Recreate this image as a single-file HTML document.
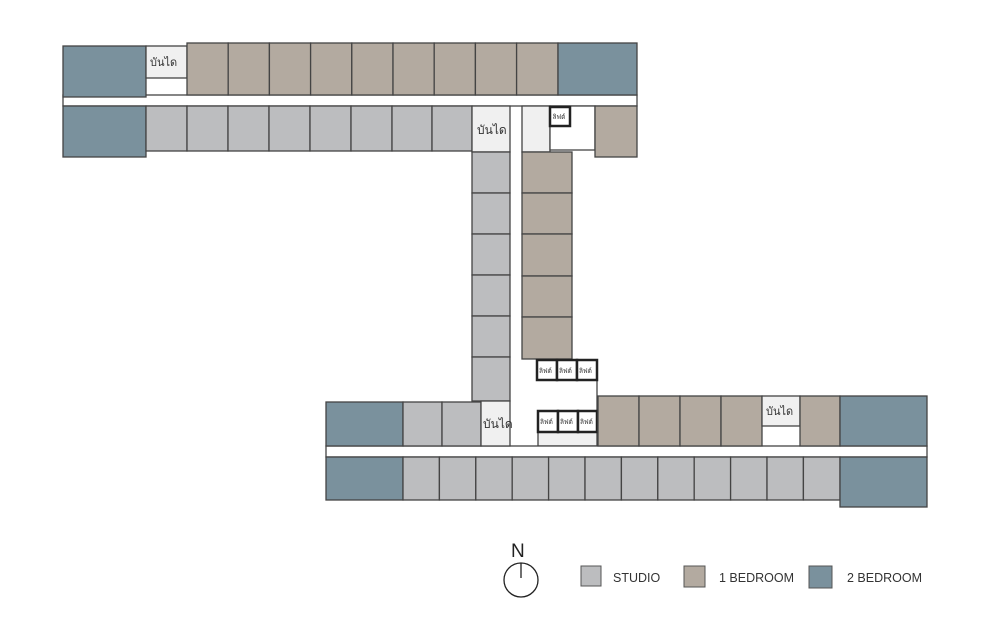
<!DOCTYPE html>
<html><head><meta charset="utf-8"><style>
html,body{margin:0;padding:0;background:#fff;width:1000px;height:631px;overflow:hidden}
text{font-family:"Liberation Sans","Noto Sans CJK SC",sans-serif}
</style></head><body>
<svg width="1000" height="631" viewBox="0 0 1000 631" xmlns="http://www.w3.org/2000/svg">
<g stroke="#444" stroke-width="1.3">
<!-- top corridor -->
<rect x="63" y="95" width="574" height="11" fill="#fff"/>
<!-- top row -->
<rect x="63" y="46" width="83" height="51" fill="#7a919d"/>
<rect x="146" y="46" width="41" height="32" fill="#f0f0f0"/>
<rect x="187" y="43" width="41.2" height="52" fill="#b3aaa0"/>
<rect x="228.2" y="43" width="41.2" height="52" fill="#b3aaa0"/>
<rect x="269.4" y="43" width="41.2" height="52" fill="#b3aaa0"/>
<rect x="310.6" y="43" width="41.2" height="52" fill="#b3aaa0"/>
<rect x="351.8" y="43" width="41.2" height="52" fill="#b3aaa0"/>
<rect x="393" y="43" width="41.2" height="52" fill="#b3aaa0"/>
<rect x="434.2" y="43" width="41.2" height="52" fill="#b3aaa0"/>
<rect x="475.4" y="43" width="41.2" height="52" fill="#b3aaa0"/>
<rect x="516.6" y="43" width="41.4" height="52" fill="#b3aaa0"/>
<rect x="558" y="43" width="79" height="52" fill="#7a919d"/>
<!-- second row -->
<rect x="63" y="106" width="83" height="51" fill="#7a919d"/>
<rect x="146" y="106" width="41" height="45" fill="#bcbdbf"/>
<rect x="187" y="106" width="41" height="45" fill="#bcbdbf"/>
<rect x="228" y="106" width="41" height="45" fill="#bcbdbf"/>
<rect x="269" y="106" width="41" height="45" fill="#bcbdbf"/>
<rect x="310" y="106" width="41" height="45" fill="#bcbdbf"/>
<rect x="351" y="106" width="41" height="45" fill="#bcbdbf"/>
<rect x="392" y="106" width="40" height="45" fill="#bcbdbf"/>
<rect x="432" y="106" width="40" height="45" fill="#bcbdbf"/>
<rect x="472" y="106" width="38" height="46" fill="#f0f0f0"/>
<rect x="522" y="106" width="28" height="46" fill="#f0f0f0"/>
<rect x="550" y="106" width="45" height="44" fill="#fff"/>
<rect x="550" y="107" width="20" height="19" fill="#fff" stroke="#222" stroke-width="2.5"/>
<rect x="595" y="106" width="42" height="51" fill="#b3aaa0"/>
<!-- vertical studio column -->
<rect x="472" y="152" width="38" height="41" fill="#bcbdbf"/>
<rect x="472" y="193" width="38" height="41" fill="#bcbdbf"/>
<rect x="472" y="234" width="38" height="41" fill="#bcbdbf"/>
<rect x="472" y="275" width="38" height="41" fill="#bcbdbf"/>
<rect x="472" y="316" width="38" height="41" fill="#bcbdbf"/>
<rect x="472" y="357" width="38" height="44" fill="#bcbdbf"/>
<!-- vertical brown column -->
<rect x="522" y="152" width="50" height="41" fill="#b3aaa0"/>
<rect x="522" y="193" width="50" height="41" fill="#b3aaa0"/>
<rect x="522" y="234" width="50" height="42" fill="#b3aaa0"/>
<rect x="522" y="276" width="50" height="41" fill="#b3aaa0"/>
<rect x="522" y="317" width="50" height="42" fill="#b3aaa0"/>
<!-- lifts -->
<line x1="597" y1="380" x2="597" y2="411"/>
<rect x="537" y="360" width="20" height="20" fill="#fff" stroke="#222" stroke-width="2.5"/>
<rect x="557" y="360" width="20" height="20" fill="#fff" stroke="#222" stroke-width="2.5"/>
<rect x="577" y="360" width="20" height="20" fill="#fff" stroke="#222" stroke-width="2.5"/>
<rect x="538" y="432" width="59" height="14" fill="#f0f0f0"/>
<rect x="538" y="411" width="20" height="21" fill="#fff" stroke="#222" stroke-width="2.5"/>
<rect x="558" y="411" width="20" height="21" fill="#fff" stroke="#222" stroke-width="2.5"/>
<rect x="578" y="411" width="19" height="21" fill="#fff" stroke="#222" stroke-width="2.5"/>
<!-- lower block -->
<rect x="326" y="446" width="601" height="11" fill="#fff"/>
<rect x="326" y="402" width="77" height="44" fill="#7a919d"/>
<rect x="403" y="402" width="39" height="44" fill="#bcbdbf"/>
<rect x="442" y="402" width="39" height="44" fill="#bcbdbf"/>
<rect x="481" y="401" width="29" height="45" fill="#f0f0f0"/>
<rect x="598" y="396" width="41" height="50" fill="#b3aaa0"/>
<rect x="639" y="396" width="41" height="50" fill="#b3aaa0"/>
<rect x="680" y="396" width="41" height="50" fill="#b3aaa0"/>
<rect x="721" y="396" width="41" height="50" fill="#b3aaa0"/>
<rect x="762" y="396" width="38" height="30" fill="#f0f0f0"/>
<rect x="800" y="396" width="40" height="50" fill="#b3aaa0"/>
<rect x="840" y="396" width="87" height="50" fill="#7a919d"/>
<rect x="326" y="457" width="77" height="43" fill="#7a919d"/>
<rect x="403" y="457" width="36.4" height="43" fill="#bcbdbf"/>
<rect x="439.4" y="457" width="36.4" height="43" fill="#bcbdbf"/>
<rect x="475.8" y="457" width="36.4" height="43" fill="#bcbdbf"/>
<rect x="512.2" y="457" width="36.4" height="43" fill="#bcbdbf"/>
<rect x="548.6" y="457" width="36.4" height="43" fill="#bcbdbf"/>
<rect x="585" y="457" width="36.4" height="43" fill="#bcbdbf"/>
<rect x="621.4" y="457" width="36.4" height="43" fill="#bcbdbf"/>
<rect x="657.8" y="457" width="36.4" height="43" fill="#bcbdbf"/>
<rect x="694.2" y="457" width="36.4" height="43" fill="#bcbdbf"/>
<rect x="730.6" y="457" width="36.4" height="43" fill="#bcbdbf"/>
<rect x="767" y="457" width="36.4" height="43" fill="#bcbdbf"/>
<rect x="803.4" y="457" width="36.6" height="43" fill="#bcbdbf"/>
<rect x="840" y="457" width="87" height="50" fill="#7a919d"/>
</g>
<g fill="#333" font-size="11">
<text x="150" y="66">บันได</text>
<text x="477" y="134" font-size="12">บันได</text>
<text x="483" y="428" font-size="12">บันได</text>
<text x="766" y="415">บันได</text>
</g>
<g fill="#333" font-size="6.5">
<text x="552.5" y="119">ลิฟต์</text>
<text x="539" y="373">ลิฟต์</text>
<text x="559" y="373">ลิฟต์</text>
<text x="579" y="373">ลิฟต์</text>
<text x="540" y="424">ลิฟต์</text>
<text x="560" y="424">ลิฟต์</text>
<text x="580" y="424">ลิฟต์</text>
</g>
<!-- legend -->
<text x="511" y="557" font-size="19" fill="#222">N</text>
<circle cx="521" cy="580" r="17" fill="none" stroke="#222" stroke-width="1.3"/>
<line x1="521" y1="563" x2="521" y2="578" stroke="#222" stroke-width="1.3"/>
<rect x="581" y="566" width="20" height="20" fill="#bcbdbf" stroke="#555"/>
<text x="613" y="582" font-size="12.5" fill="#333">STUDIO</text>
<rect x="684" y="566" width="21" height="21" fill="#b3aaa0" stroke="#555"/>
<text x="719" y="582" font-size="12.5" fill="#333">1 BEDROOM</text>
<rect x="809" y="566" width="23" height="22" fill="#7a919d" stroke="#555"/>
<text x="847" y="582" font-size="12.5" fill="#333">2 BEDROOM</text>
</svg>
</body></html>
